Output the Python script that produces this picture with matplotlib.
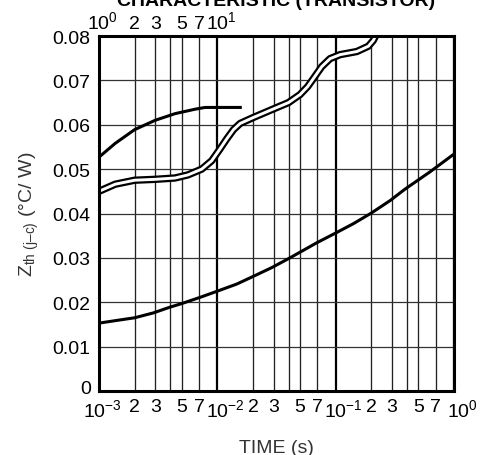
import matplotlib
matplotlib.use('Agg')
import matplotlib.pyplot as plt
import matplotlib.transforms as mtransforms

plt.rcParams['font.family'] = ['Liberation Sans', 'DejaVu Sans']
plt.rcParams['mathtext.fontset'] = 'custom'
plt.rcParams['mathtext.rm'] = 'Liberation Sans'

# curve data (time in s, Zth in °C/W)
t_low = [1e-3, 1.41e-3, 2.0e-3, 2.88e-3, 3.98e-3, 5.0e-3, 7.14e-3, 1.0e-2, 1.46e-2, 2.0e-2, 2.88e-2,
         4.04e-2, 5.33e-2, 6.92e-2, 0.1, 0.141, 0.2, 0.288, 0.386, 0.628, 1.0]
z_low = [0.0153, 0.0159, 0.0165, 0.0176, 0.0189, 0.0197, 0.0211, 0.0225, 0.0241, 0.0258, 0.0278,
         0.0299, 0.0317, 0.0334, 0.0356, 0.0377, 0.0401, 0.0429, 0.0455, 0.0494, 0.0534]

t_up = [1e-3, 1.37e-3, 2.0e-3, 2.98e-3, 4.39e-3, 6.47e-3, 7.87e-3, 1.2e-2, 1.61e-2]
z_up = [0.0527, 0.0558, 0.0589, 0.0610, 0.0625, 0.0635, 0.0639, 0.0639, 0.0639]

t_dbl = [1e-3, 1.37e-3, 2.0e-3, 2.98e-3, 4.39e-3, 5.65e-3, 7.38e-3, 8.97e-3, 1.05e-2, 1.2e-2, 1.37e-2,
         1.56e-2, 2.0e-2, 2.88e-2, 4.0e-2, 5.0e-2, 5.8e-2, 6.48e-2, 7.63e-2, 8.97e-2, 0.109, 0.151,
         0.189, 0.208, 0.225]
z_dbl = [0.0450, 0.0466, 0.0475, 0.0477, 0.0480, 0.0487, 0.0500, 0.0519, 0.0545, 0.0568, 0.0589,
         0.0603, 0.0616, 0.0634, 0.0650, 0.0668, 0.0686, 0.0704, 0.0731, 0.0749, 0.0758, 0.0765,
         0.0777, 0.0790, 0.0808]

decades = [1e-3, 1e-2, 1e-1, 1e0]
decade_labels = [r'$\mathregular{10^{-3}}$', r'$\mathregular{10^{-2}}$', r'$\mathregular{10^{-1}}$', r'$\mathregular{10^{0}}$']
minor_steps = [2, 3, 4, 5, 7]
minor_labels = ['2', '3', '', '5', '7']
top_ticks = [1, 2, 3, 5, 7, 10]
top_labels = [r'$\mathregular{10^{0}}$', '2', '3', '5', '7', r'$\mathregular{10^{1}}$']
y_ticks = [0, 0.01, 0.02, 0.03, 0.04, 0.05, 0.06, 0.07, 0.08]
y_labels = ['0', '0.01', '0.02', '0.03', '0.04', '0.05', '0.06', '0.07', '0.08']


def shift(lab, dx, dy):
    lab.set_transform(lab.get_transform() + mtransforms.ScaledTranslation(dx / 100, dy / 100, fig.dpi_scale_trans))


fig = plt.figure(figsize=(4.81, 4.56), dpi=100)
ax = fig.add_axes([99 / 481, 64 / 456, 355 / 481, 355 / 456])
ax.set_xscale('log')
ax.set_xlim(1e-3, 1e0)
ax.set_ylim(0, 0.08)

minor_pos = [d * s for d in decades[:-1] for s in minor_steps]
ax.set_xticks(decades)
ax.set_xticklabels(decade_labels)
ax.set_xticks(minor_pos, minor=True)
ax.set_xticklabels(minor_labels * 3, minor=True)
ax.set_yticks(y_ticks)
ax.set_yticklabels(y_labels)

ax.grid(which='major', axis='x', color='black', linewidth=1.6)
ax.grid(which='minor', axis='x', color='#222222', linewidth=0.95)
ax.grid(which='major', axis='y', color='#333333', linewidth=0.9)
ax.tick_params(which='both', length=0, labelsize=14, pad=6)
ax.tick_params(axis='x', which='both', pad=5)
for s in ax.spines.values():
    s.set_linewidth(2.2)

# decade labels sit a little right of their grid line in the reference
for lab, dx in zip(ax.get_xticklabels(), [3, 8, 8, 8]):
    shift(lab, dx, 0)
shift(ax.get_yticklabels()[0], 0, 4)

ax.plot(t_low, z_low, color='black', linewidth=2.2, solid_capstyle='butt', solid_joinstyle='round')
ax.plot(t_up, z_up, color='black', linewidth=2.2, solid_capstyle='butt', solid_joinstyle='round')
ax.plot(t_dbl, z_dbl, color='black', linewidth=5.3, solid_capstyle='butt', solid_joinstyle='round')
ax.plot(t_dbl, z_dbl, color='white', linewidth=2.1, solid_capstyle='butt', solid_joinstyle='round')

sec = ax.secondary_xaxis('top', functions=(lambda t: t * 1000, lambda t: t / 1000))
sec.set_xticks(top_ticks)
sec.set_xticklabels(top_labels)
sec.set_xticks([], minor=True)
sec.tick_params(which='both', length=0, labelsize=14, pad=3)
for s in sec.spines.values():
    s.set_visible(False)
top = sec.get_xticklabels()
shift(top[0], 3, 0)
shift(top[-1], 4, 0)

ax.set_xlabel('TIME (s)', fontsize=14, color='#333333', labelpad=14)
ax.set_ylabel(r'Z$_{\mathregular{th\ (j–c)}}$ (°C/ W)', fontsize=14, color='#333333')
ax.yaxis.set_label_coords(-0.163, 0.5)

fig.text(276 / 481, 1 - 6 / 456, 'CHARACTERISTIC (TRANSISTOR)', ha='center', va='baseline',
         fontsize=14, fontweight='bold')

fig.savefig('out.png', dpi=100)
